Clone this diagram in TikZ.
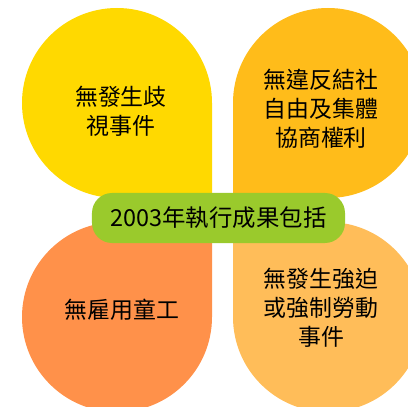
\documentclass[tikz,border=0pt]{standalone}
\usepackage{fontspec}
\setmainfont{Noto Sans CJK TC}
\definecolor{petalA}{HTML}{FFD900}
\definecolor{petalB}{HTML}{FFBC1A}
\definecolor{petalC}{HTML}{FF914A}
\definecolor{petalD}{HTML}{FFBD59}
\definecolor{hub}{HTML}{9ACA2C}
\tikzset{
  petaltext/.style={align=center, text=black, font=\fontsize{23}{29}\selectfont, inner sep=0pt},
  hubbox/.style={fill=hub, rounded corners=20bp, minimum width=253bp, minimum height=50bp, inner sep=0pt, text=black, font=\fontsize{23.5}{26}\selectfont}
}
\begin{document}
\begin{tikzpicture}[x=1bp,y=1bp]
\useasboundingbox (0,0) rectangle (408,407);
\clip (0,0) rectangle (408,407);
% petals
\fill[petalA] (212,209) -- (212,304) arc[start angle=0, end angle=270, radius=95] -- cycle;
\fill[petalB] (233,209) -- (233,304) arc[start angle=180, end angle=-90, radius=95] -- cycle;
\fill[petalC] (212,185) -- (212,90) arc[start angle=0, end angle=-270, radius=95] -- cycle;
\fill[petalD] (233,185) -- (233,90) arc[start angle=180, end angle=450, radius=95] -- cycle;
% texts
\node[petaltext] (tl) at (121,296) {無發生歧\\視事件};
\node[petaltext] (tr) at (321,298) {無違反結社\\自由及集體\\協商權利};
\node[petaltext] (bl) at (122,97) {無雇用童工};
\node[petaltext] (br) at (321,99) {無發生強迫\\或強制勞動\\事件};
% hub
\node[hubbox] (hub) at (218.5,189) {2003年執行成果包括};
\end{tikzpicture}
\end{document}
